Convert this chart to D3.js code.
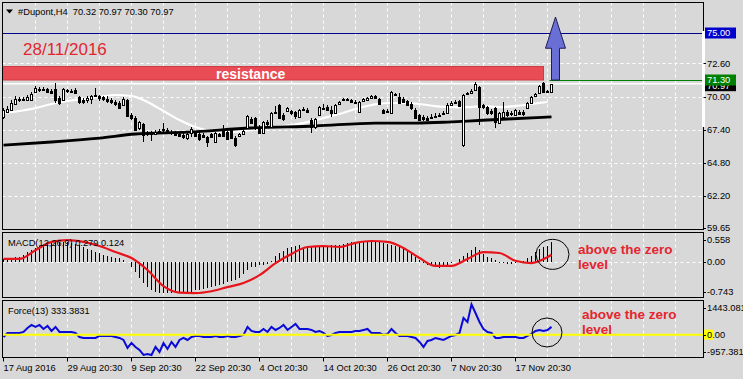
<!DOCTYPE html>
<html>
<head>
<meta charset="utf-8">
<title>#Dupont,H4</title>
<script src="https://cdn.jsdelivr.net/npm/d3@7/dist/d3.min.js"></script>
<style>
  html, body { margin: 0; padding: 0; background: #d8d8d8; }
  svg { display: block; font-family: Tahoma, "Liberation Sans", Arial, sans-serif; }
  text { white-space: pre; }
</style>
</head>
<body>
<div id="chart"></div>
<script>
// ---- data (H4 bars, 17 Aug - 28 Nov 2016) ----
var symbol = "#Dupont,H4";
var dateNote = "28/11/2016";

var timeLabels = ["17 Aug 2016", "29 Aug 20:30", "9 Sep 20:30", "22 Sep 20:30", "4 Oct 20:30",
                  "14 Oct 20:30", "26 Oct 20:30", "7 Nov 20:30", "17 Nov 20:30"];
var timeLabelBars = [0, 16, 32, 48, 64, 80, 96, 112, 128];

var opens = [
  68.39, 68.78, 68.94, 69.41, 69.72, 69.80, 69.72, 69.72, 70.35, 70.59,
  70.51, 70.59, 70.43, 70.59, 69.88, 69.72, 70.51, 70.43, 70.51, 69.96,
  69.72, 69.72, 69.80, 70.12, 70.04, 69.96, 69.80, 69.72, 69.57, 69.49,
  69.33, 69.72, 68.54, 68.31, 67.52, 67.83, 67.05, 67.13, 67.05, 67.20,
  67.36, 67.36, 67.20, 67.13, 67.05, 66.97, 66.73, 67.13, 67.20, 67.05,
  66.97, 66.81, 67.05, 66.42, 67.05, 67.28, 67.20, 67.36, 66.73, 66.89,
  67.05, 67.52, 68.23, 68.31, 67.60, 67.13, 67.99, 67.60, 68.78, 69.33,
  68.54, 68.86, 68.86, 68.78, 68.39, 69.02, 68.94, 68.15, 67.60, 68.54,
  69.09, 69.17, 68.94, 68.70, 69.41, 69.72, 69.80, 69.72, 69.57, 68.78,
  69.65, 69.72, 69.88, 70.04, 69.80, 68.94, 68.86, 68.70, 70.12, 69.96,
  69.80, 69.65, 69.41, 68.94, 68.54, 68.39, 68.31, 68.39, 68.46, 68.54,
  68.70, 68.70, 69.33, 69.49, 69.65, 66.18, 70.20, 70.28, 70.51, 70.75,
  69.33, 69.17, 68.86, 69.09, 67.91, 68.39, 68.78, 68.70, 68.54, 68.78,
  68.78, 69.09, 69.49, 70.04, 70.28, 71.06, 70.43, 70.32];
var highs = [
  69.09, 69.25, 69.72, 70.04, 69.96, 69.96, 70.12, 70.35, 70.83, 70.75,
  70.75, 70.67, 70.59, 71.06, 70.04, 70.67, 70.59, 70.59, 70.67, 70.04,
  69.88, 70.04, 70.12, 70.67, 70.12, 70.04, 70.04, 69.88, 69.72, 69.65,
  69.96, 69.80, 68.70, 68.46, 68.07, 67.91, 67.28, 67.28, 67.36, 67.44,
  67.91, 67.52, 67.36, 67.28, 67.20, 67.13, 67.20, 67.60, 67.28, 67.20,
  67.13, 66.89, 67.13, 67.20, 67.13, 67.76, 67.28, 67.44, 66.89, 67.13,
  67.36, 68.54, 68.39, 68.39, 67.76, 68.07, 68.15, 68.78, 69.25, 69.41,
  68.70, 69.17, 68.94, 68.86, 69.02, 69.17, 69.09, 68.31, 68.31, 69.25,
  69.41, 69.33, 69.25, 69.41, 69.65, 69.88, 69.88, 69.80, 69.72, 69.65,
  69.88, 69.96, 70.12, 70.12, 69.88, 69.02, 69.02, 70.43, 70.28, 70.28,
  69.96, 69.72, 69.57, 69.09, 68.62, 68.54, 68.46, 68.62, 68.70, 68.70,
  68.86, 69.49, 69.65, 69.72, 69.72, 70.20, 70.35, 70.59, 71.14, 70.83,
  69.41, 69.25, 69.02, 69.17, 68.78, 69.57, 68.94, 68.86, 69.02, 68.94,
  68.94, 69.57, 70.04, 70.28, 70.91, 71.14, 70.51, 70.97];
var lows = [
  68.23, 68.70, 68.86, 69.33, 69.57, 69.65, 69.65, 69.65, 70.28, 70.35,
  70.43, 70.28, 70.20, 69.49, 69.33, 69.65, 70.28, 70.35, 70.20, 69.41,
  69.41, 69.49, 69.41, 69.96, 69.65, 69.65, 69.49, 69.41, 69.25, 69.02,
  69.25, 68.39, 68.15, 67.28, 67.36, 66.42, 66.89, 66.50, 66.97, 67.05,
  67.20, 67.05, 66.97, 66.89, 66.81, 66.65, 66.57, 66.81, 66.81, 66.50,
  66.73, 66.02, 66.73, 66.34, 66.81, 66.81, 66.57, 66.65, 66.02, 66.81,
  66.97, 67.44, 67.83, 67.36, 67.05, 67.05, 67.68, 67.52, 68.62, 68.23,
  68.07, 68.78, 68.54, 68.23, 68.31, 68.86, 68.70, 67.13, 67.44, 68.46,
  68.94, 68.86, 68.39, 68.62, 69.33, 69.65, 69.65, 69.49, 69.41, 68.70,
  69.57, 69.65, 69.80, 69.80, 69.33, 68.62, 68.70, 68.62, 70.04, 69.41,
  69.49, 69.25, 68.94, 68.23, 68.07, 68.07, 68.07, 68.23, 68.31, 68.39,
  68.54, 68.62, 69.25, 69.41, 69.17, 66.02, 70.12, 70.20, 70.43, 67.76,
  69.02, 68.54, 68.54, 67.52, 67.83, 68.31, 68.39, 68.46, 68.46, 68.54,
  68.46, 69.02, 69.41, 69.96, 70.20, 70.28, 70.28, 70.30];
var closes = [
  68.94, 69.02, 69.49, 69.80, 69.80, 69.72, 69.96, 70.20, 70.67, 70.51,
  70.59, 70.35, 70.28, 69.72, 69.49, 70.59, 70.43, 70.45, 70.28, 69.57,
  69.57, 69.88, 70.04, 70.04, 69.88, 69.80, 69.65, 69.57, 69.41, 69.09,
  69.80, 68.46, 68.31, 67.36, 67.99, 66.97, 67.13, 67.05, 67.20, 67.28,
  67.44, 67.20, 67.13, 66.97, 66.89, 66.81, 67.05, 67.44, 66.89, 66.65,
  66.81, 66.42, 66.81, 67.13, 66.89, 66.89, 66.65, 66.73, 66.18, 67.05,
  67.28, 68.46, 67.91, 67.52, 67.13, 67.99, 67.83, 68.70, 68.70, 68.31,
  68.23, 69.09, 68.70, 68.46, 68.94, 68.94, 68.78, 67.60, 68.23, 69.17,
  69.02, 68.94, 68.70, 69.33, 69.57, 69.80, 69.72, 69.57, 69.49, 69.57,
  69.80, 69.88, 70.04, 69.88, 69.41, 68.70, 68.78, 70.35, 70.20, 69.49,
  69.57, 69.33, 69.09, 68.31, 68.15, 68.23, 68.15, 68.31, 68.39, 68.46,
  68.62, 69.33, 69.49, 69.57, 69.25, 70.12, 70.28, 70.43, 70.98, 69.17,
  69.17, 68.70, 68.70, 67.99, 68.70, 68.78, 68.54, 68.62, 68.94, 68.62,
  68.62, 69.49, 69.96, 70.20, 70.83, 70.35, 70.35, 70.97];

// moving averages (white = fast, black = slow), read every few bars
var maFastBars = [0, 4, 8, 12, 16, 20, 24, 28, 32, 36, 40, 44, 48, 52, 56, 60, 64, 68,
                  72, 76, 80, 84, 88, 92, 96, 100, 104, 108, 112, 116, 120, 124, 128, 132, 136];
var maFast = [68.70, 68.86, 69.09, 69.41, 69.65, 69.80, 69.96, 70.12, 70.04, 69.57, 68.86, 68.15,
              67.60, 67.28, 67.20, 67.28, 67.44, 67.60, 67.76, 67.99, 68.31, 68.62, 69.02, 69.33,
              69.49, 69.49, 69.41, 69.25, 69.17, 69.17, 69.25, 69.17, 69.25, 69.41, 69.57];
var maSlowBars = [0, 12, 24, 33, 46, 62, 78, 93, 103, 111, 116, 126, 137];
var maSlow = [66.18, 66.42, 66.73, 67.05, 67.20, 67.52, 67.68, 67.91, 67.91, 67.99, 68.07, 68.23, 68.39];

// MACD(12,26,9): main as histogram, signal as red line
var macdMain = [
  0.06, 0.06, 0.08, 0.10, 0.10, 0.15, 0.21, 0.25, 0.30, 0.34,
  0.38, 0.41, 0.43, 0.43, 0.43, 0.43, 0.43, 0.41, 0.38, 0.36,
  0.32, 0.28, 0.25, 0.21, 0.19, 0.15, 0.12, 0.10, 0.08, 0.08,
  0.04, -0.01, -0.11, -0.22, -0.35, -0.46, -0.55, -0.61, -0.66, -0.68,
  -0.68, -0.68, -0.68, -0.68, -0.68, -0.66, -0.66, -0.66, -0.61, -0.61,
  -0.59, -0.57, -0.55, -0.53, -0.51, -0.48, -0.44, -0.42, -0.40, -0.35,
  -0.27, -0.18, -0.11, -0.11, -0.07, -0.07, -0.05, 0.02, 0.12, 0.19,
  0.23, 0.30, 0.32, 0.34, 0.36, 0.32, 0.32, 0.32, 0.32, 0.32,
  0.34, 0.34, 0.36, 0.36, 0.36, 0.38, 0.41, 0.43, 0.43, 0.43,
  0.43, 0.43, 0.43, 0.43, 0.43, 0.41, 0.38, 0.36, 0.34, 0.32,
  0.28, 0.23, 0.19, 0.10, 0.04, -0.03, -0.07, -0.09, -0.11, -0.14,
  -0.11, -0.07, -0.03, -0.01, 0.06, 0.12, 0.19, 0.25, 0.32, 0.25,
  0.17, 0.10, 0.08, 0.04, -0.03, -0.03, -0.05, -0.05, -0.03, -0.01,
  0.02, 0.08, 0.12, 0.21, 0.28, 0.32, 0.34, 0.43];
var macdSignalBars = [0, 4, 8, 12, 16, 20, 24, 28, 32, 36, 40, 44, 48, 52, 56, 60, 64, 68,
                      72, 76, 80, 84, 88, 92, 96, 100, 104, 108, 112, 116, 120, 124, 128, 132, 136, 137];
var macdSignal = [0.06, 0.06, 0.25, 0.43, 0.47, 0.43, 0.34, 0.21, 0.08, -0.18, -0.53, -0.67,
                  -0.68, -0.64, -0.55, -0.46, -0.29, -0.03, 0.17, 0.32, 0.34, 0.32, 0.41, 0.45,
                  0.43, 0.30, 0.08, -0.09, -0.09, 0.06, 0.21, 0.19, 0.02, -0.03, 0.10, 0.15];
var macdLabel = "MACD(12,26,9) 0.279 0.124";

// Force(13)
var force = [
  -99, 73, 73, 73, 73, 116, 287, 416, 330, 416,
  244, 373, 159, 330, 116, 116, 116, 116, 73, -99,
  -141, -141, -141, -141, -56, -56, -56, -56, -99, -141,
  -227, -570, -356, -527, -656, -870, -827, -870, -527, -742,
  -356, -613, -313, -527, -227, -141, -227, -99, -56, -56,
  -99, -99, -99, -56, -99, -99, -56, -99, -99, -56,
  -13, 330, 159, 116, 116, 244, 116, 330, 201, 287,
  416, 201, 330, 459, 244, 244, 244, 201, 116, 159,
  73, -56, -13, 73, 116, 116, 116, 116, 159, 159,
  201, 244, 73, 73, 73, -13, 30, 244, 73, -56,
  -56, -56, -99, -141, -313, -527, -270, -227, -141, -184,
  -227, -141, -56, -13, 73, 716, 544, 1300, 930, 544,
  244, 116, 73, -141, -141, -99, -99, -99, -99, -141,
  -141, -56, 30, 159, 201, 159, 201, 333.38];
var forceLabel = "Force(13) 333.3831";

// price axis and drawn levels
var priceTicks = [72.60, 70.00, 67.40, 64.80, 62.20, 59.65];
var targetLevel = 75.00;
var resistanceLevel = 71.30;
var resistanceTop = 72.36;
var resistanceEndBar = 135;
var arrowBar = 138, arrowHead = 73.80, arrowTip = 76.26;
var macdTicks = [0.558, 0.00, -0.743];
var forceTicks = [1443.081, 0.00, -957.381];
var noteText = ["above the zero", "level"];

(function() {
    var W = 743, H = 379;
    var left = 2.5, right = 703.5;
    var main = {top: 2.5, bottom: 229.5};
    var macdP = {top: 232.5, bottom: 297.5};
    var forceP = {top: 300.5, bottom: 357.5};
    var RED = "#e3262f";
    var SMALL = "9.3px";

    var svg = d3.select("#chart").append("svg")
        .attr("width", W).attr("height", H);
    svg.append("rect").attr("width", W).attr("height", H).attr("fill", "#d8d8d8");

    // one H4 bar = 4px
    var x = d3.scaleLinear().domain([0, 137]).range([3.5, 551.5]);
    var y = d3.scaleLinear().domain([59.65, 75]).range([228, 33]);
    var yM = d3.scaleLinear().domain([-0.743, 0.558]).range([296, 236]);
    var yF = d3.scaleLinear().domain([-957.381, 1443.081]).range([357, 301]);

    var defs = svg.append("defs");
    [["cMain", main], ["cMacd", macdP], ["cForce", forceP]].forEach(function(c) {
        defs.append("clipPath").attr("id", c[0]).append("rect")
            .attr("x", left).attr("y", c[1].top)
            .attr("width", right - left).attr("height", c[1].bottom - c[1].top);
    });

    // vertical dashed grid every 8 bars, all panels
    var gridBars = d3.range(8, 176, 8).filter(function(b) { return x(b) < right; });
    [main, macdP, forceP].forEach(function(p) {
        svg.append("g").selectAll("line").data(gridBars).enter().append("line")
            .attr("x1", function(b) { return x(b); }).attr("x2", function(b) { return x(b); })
            .attr("y1", p.top).attr("y2", p.bottom)
            .attr("stroke", "#fff").attr("stroke-dasharray", "3,3");
    });

    // ---------- main panel ----------
    var g = svg.append("g").attr("clip-path", "url(#cMain)");
    g.selectAll("line.hgrid").data(priceTicks.slice(0, 5)).enter().append("line")
        .attr("x1", left).attr("x2", right)
        .attr("y1", function(p) { return Math.round(y(p)) + 0.5; })
        .attr("y2", function(p) { return Math.round(y(p)) + 0.5; })
        .attr("stroke", "#fff").attr("stroke-dasharray", "3,3");

    // target line
    g.append("line").attr("x1", left).attr("x2", right)
        .attr("y1", Math.round(y(targetLevel)) + 0.5).attr("y2", Math.round(y(targetLevel)) + 0.5)
        .attr("stroke", "#00008b");

    // resistance zone
    g.append("rect")
        .attr("x", left - 2).attr("y", y(resistanceTop))
        .attr("width", x(resistanceEndBar) - left + 2)
        .attr("height", y(resistanceLevel) - y(resistanceTop))
        .attr("fill", "#ea4c55").attr("stroke", "#cf3a42");
    g.append("text").attr("x", 216).attr("y", 79)
        .attr("fill", "#fff").attr("font-family", "'Liberation Sans', Arial, sans-serif")
        .attr("font-weight", "bold").attr("font-size", "14px").text("resistance");

    // last price line and resistance level line
    var last = closes.length - 1;
    g.append("line").attr("x1", left).attr("x2", right)
        .attr("y1", y(closes[last]) - 0.5).attr("y2", y(closes[last]) - 0.5)
        .attr("stroke", "#fff").attr("stroke-width", 1.5);
    g.append("line").attr("x1", x(arrowBar) - 6).attr("x2", right)
        .attr("y1", Math.round(y(resistanceLevel)) + 0.5).attr("y2", Math.round(y(resistanceLevel)) + 0.5)
        .attr("stroke", "#008000");

    // moving averages
    var fastPts = maFastBars.map(function(b, i) { return [b, maFast[i]]; });
    var slowPts = maSlowBars.map(function(b, i) { return [b, maSlow[i]]; });
    var maLine = d3.line()
        .x(function(d) { return x(d[0]); })
        .y(function(d) { return y(d[1]); })
        .curve(d3.curveMonotoneX);
    g.append("path").attr("d", maLine(fastPts)).attr("fill", "none")
        .attr("stroke", "#fff").attr("stroke-width", 2.2);
    g.append("path").attr("d", maLine(slowPts)).attr("fill", "none")
        .attr("stroke", "#000").attr("stroke-width", 2.8);

    // candles
    var bars = closes.map(function(c, i) {
        return {i: i, o: opens[i], h: highs[i], l: lows[i], c: c};
    });
    g.selectAll("line.wick").data(bars).enter().append("line")
        .attr("x1", function(d) { return x(d.i); }).attr("x2", function(d) { return x(d.i); })
        .attr("y1", function(d) { return Math.round(y(d.h)); })
        .attr("y2", function(d) { return Math.round(y(d.l)); })
        .attr("stroke", "#000");
    g.selectAll("rect.body").data(bars).enter().append("rect")
        .attr("x", function(d) { return x(d.i) - 1; })
        .attr("y", function(d) { return Math.round(y(Math.max(d.o, d.c))) + 0.5; })
        .attr("width", 2)
        .attr("height", function(d) { return Math.max(1, Math.round(Math.abs(y(d.o) - y(d.c)))); })
        .attr("fill", function(d) { return d.c >= d.o ? "#fff" : "#000"; })
        .attr("stroke", "#000");

    // up arrow
    var ax = x(arrowBar);
    var arrow = [[ax - 4, y(resistanceLevel)], [ax - 4, y(arrowHead)], [ax - 10, y(arrowHead)],
                 [ax, y(arrowTip)], [ax + 10, y(arrowHead)], [ax + 4, y(arrowHead)],
                 [ax + 4, y(resistanceLevel)]];
    g.append("path").attr("d", d3.line()(arrow) + "Z")
        .attr("fill", "#6a6fd5").attr("stroke", "#1e1e55");

    // date note
    svg.append("text").attr("x", 23).attr("y", 55)
        .attr("font-family", "'Liberation Sans', Arial, sans-serif")
        .attr("font-size", "17px").attr("fill", RED).text(dateNote);

    // header
    svg.append("path").attr("d", "M6,9.5L13,9.5L9.5,13.5Z").attr("fill", "#000");
    var f2 = function(v) { return v.toFixed(2); };
    svg.append("text").attr("x", 18).attr("y", 14.5).attr("font-size", SMALL)
        .text(symbol + "  " + [opens[last], highs[last], lows[last], closes[last]].map(f2).join(" "));

    // ---------- MACD panel ----------
    var gm = svg.append("g").attr("clip-path", "url(#cMacd)");
    gm.append("line").attr("x1", left).attr("x2", right)
        .attr("y1", Math.round(yM(0)) + 0.5).attr("y2", Math.round(yM(0)) + 0.5)
        .attr("stroke", "#fff").attr("stroke-dasharray", "3,3");
    svg.append("text").attr("x", 8).attr("y", 246).attr("font-size", SMALL).text(macdLabel);
    gm.selectAll("line.hist").data(macdMain).enter().append("line")
        .attr("x1", function(d, i) { return x(i); }).attr("x2", function(d, i) { return x(i); })
        .attr("y1", Math.round(yM(0))).attr("y2", function(d) { return Math.round(yM(d)); })
        .attr("stroke", "#000");
    var sigPts = macdSignalBars.map(function(b, i) { return [b, macdSignal[i]]; });
    gm.append("path")
        .attr("d", d3.line().x(function(d) { return x(d[0]); }).y(function(d) { return yM(d[1]); })
            .curve(d3.curveMonotoneX)(sigPts))
        .attr("fill", "none").attr("stroke", "#e8141c").attr("stroke-width", 2.2);

    // ---------- Force panel ----------
    var gf = svg.append("g").attr("clip-path", "url(#cForce)");
    gf.append("path")
        .attr("d", d3.line().x(function(d, i) { return x(i); }).y(function(d) { return yF(d); })(force))
        .attr("fill", "none").attr("stroke", "#0a0ad8").attr("stroke-width", 2);
    gf.append("line").attr("x1", left).attr("x2", right)
        .attr("y1", yF(0)).attr("y2", yF(0))
        .attr("stroke", "#ffff00").attr("stroke-width", 2);
    svg.append("text").attr("x", 8).attr("y", 314).attr("font-size", SMALL).text(forceLabel);

    // annotations: circles and notes
    svg.append("ellipse").attr("cx", x(137) + 1).attr("cy", yM(0.16))
        .attr("rx", 16.5).attr("ry", 15).attr("fill", "none").attr("stroke", "#000");
    svg.append("ellipse").attr("cx", x(136) - 0.5).attr("cy", yF(93))
        .attr("rx", 15).attr("ry", 14.5).attr("fill", "none").attr("stroke", "#000");
    [[578, 254], [582, 319]].forEach(function(p) {
        var t = svg.append("text").attr("font-family", "'Liberation Sans', Arial, sans-serif")
            .attr("font-weight", "bold").attr("font-size", "13.5px").attr("fill", RED);
        t.append("tspan").attr("x", p[0]).attr("y", p[1]).text(noteText[0]);
        t.append("tspan").attr("x", p[0]).attr("y", p[1] + 15).text(noteText[1]);
    });

    // ---------- frames ----------
    [main, macdP, forceP].forEach(function(p) {
        svg.append("rect").attr("x", left).attr("y", p.top)
            .attr("width", right - left).attr("height", p.bottom - p.top)
            .attr("fill", "none").attr("stroke", "#000");
    });
    svg.append("rect").attr("x", 702).attr("y", 31).attr("width", 3).attr("height", 96).attr("fill", "#fff");

    // ---------- right axis ----------
    var ax2 = svg.append("g").attr("font-size", SMALL);
    function rlabel(yy, txt, bg, fg) {
        if (bg) {
            ax2.append("rect").attr("x", 705).attr("y", yy - 5.5).attr("width", 31).attr("height", 11).attr("fill", bg);
        } else {
            ax2.append("line").attr("x1", right).attr("x2", 706)
                .attr("y1", Math.round(yy) + 0.5).attr("y2", Math.round(yy) + 0.5).attr("stroke", "#000");
        }
        ax2.append("text").attr("x", 707).attr("y", yy).attr("dy", "0.35em")
            .attr("fill", fg || "#000").text(txt);
    }
    priceTicks.forEach(function(p) { rlabel(Math.min(y(p), 228), f2(p)); });
    rlabel(y(targetLevel), f2(targetLevel), "#0000cd", "#fff");
    // last-price tag sits mostly under the 71.30 tag, as in the terminal
    rlabel(y(closes[last]) + 1.5, f2(closes[last]), "#000", "#fff");
    rlabel(y(resistanceLevel), f2(resistanceLevel), "#008000", "#fff");

    var clampM = function(v) { return Math.max(macdP.top + 7, Math.min(macdP.bottom - 6, yM(v))); };
    macdTicks.forEach(function(v) { rlabel(clampM(v), v === 0 ? "0.00" : String(v)); });
    var clampF = function(v) { return Math.max(forceP.top + 7, Math.min(forceP.bottom - 6, yF(v))); };
    ax2.append("rect").attr("x", 704).attr("y", yF(0) - 5).attr("width", 10).attr("height", 10).attr("fill", "#ffff00");
    forceTicks.forEach(function(v) { rlabel(clampF(v), v === 0 ? "0.00" : String(v)); });

    // ---------- time axis ----------
    var tg = svg.append("g").attr("font-size", SMALL);
    timeLabelBars.forEach(function(b, i) {
        tg.append("line").attr("x1", x(b)).attr("x2", x(b))
            .attr("y1", forceP.bottom).attr("y2", forceP.bottom + 4).attr("stroke", "#000");
        tg.append("text").attr("x", x(b)).attr("y", 370.5).text(timeLabels[i]);
    });
}());
</script>
</body>
</html>
